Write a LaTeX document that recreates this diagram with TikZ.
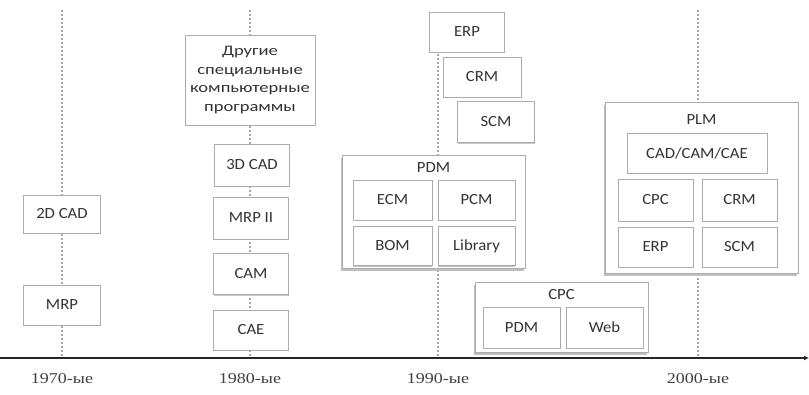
\documentclass[tikz,border=0pt]{standalone}
\usepackage{fontspec}
\setmainfont[FakeStretch=1.08]{Carlito}
\newfontfamily\widefont[FakeStretch=1.28]{Carlito}
\newfontfamily\yearfont[FakeStretch=1.2]{Liberation Serif}
\usetikzlibrary{arrows.meta,shadows}

\tikzset{
  sys/.style={draw=gray!65, line width=1pt, fill=white, font=\fontsize{15.5}{18}\selectfont,
    inner sep=0pt, align=center, text=black!80,
    drop shadow={shadow xshift=0pt, shadow yshift=-1.2pt, fill=gray!45, opacity=1}},
  grp/.style={sys, drop shadow={shadow xshift=-1.5pt, shadow yshift=-2.5pt, fill=gray!50, opacity=1}},
  grptitle/.style={font=\fontsize{15.5}{18}\selectfont, text=black!80, inner sep=0pt},
  era/.style={draw=gray!70, line width=1.3pt, dash pattern=on 2pt off 2pt},
  year/.style={font=\yearfont\fontsize{15}{17}\selectfont, text=black!75},
}

\begin{document}
\begin{tikzpicture}[x=1pt, y=-1pt]
  \useasboundingbox (0,0) rectangle (809,394);

  % Time axis ends
  \coordinate (a0) at (0,358);
  \coordinate (a1) at (809,358);

  % Era lines
  \coordinate (t70) at (62,10);   \coordinate (b70) at (62,358);
  \coordinate (t80) at (250,10);  \coordinate (b80) at (250,358);
  \coordinate (t90) at (438,30);  \coordinate (b90) at (438,358);
  \coordinate (t00) at (698,10);  \coordinate (b00) at (698,358);

  \draw[era] (t70) -- (b70);
  \draw[era] (t80) -- (b80);
  \draw[era] (t90) -- (b90);
  \draw[era] (t00) -- (b00);

  \draw[line width=1.6pt, black!85, -{Latex[length=5pt,width=5pt]}] (a0) -- (a1);

  % Year labels
  \node[year] (y70) at (62,379)  {1970-ые};
  \node[year] (y80) at (250,379) {1980-ые};
  \node[year] (y90) at (438,379) {1990-ые};
  \node[year] (y00) at (698,379) {2000-ые};

  % 1970s
  \node[sys, minimum width=77, minimum height=38] (cad2d) at (62,214) {2D CAD};
  \node[sys, minimum width=77, minimum height=40] (mrp)   at (62,305) {MRP};

  % 1980s
  \node[sys, minimum width=130, minimum height=90, font=\widefont\fontsize{14.5}{18.5}\selectfont] (other) at (250,80)
    {Другие\\специальные\\компьютерные\\программы};
  \node[sys, minimum width=75, minimum height=42] (cad3d) at (252,165) {3D CAD};
  \node[sys, minimum width=75, minimum height=42] (mrp2)  at (251,218) {MRP II};
  \node[sys, minimum width=75, minimum height=41] (cam)   at (251,274) {CAM};
  \node[sys, minimum width=75, minimum height=40] (cae)   at (251,330) {CAE};

  % 1990s
  \node[sys, minimum width=75, minimum height=40] (erp) at (467,32)  {ERP};
  \node[sys, minimum width=78, minimum height=40] (crm) at (482,77)  {CRM};
  \node[sys, minimum width=77, minimum height=41] (scm) at (496,122) {SCM};

  \node[grp, minimum width=183, minimum height=113] (pdm) at (433.5,211.5) {};
  \node[grptitle] (pdmt) at (433.5,168) {PDM};
  \node[sys, minimum width=79, minimum height=40] (ecm) at (392.5,200) {ECM};
  \node[sys, minimum width=77, minimum height=40] (pcm) at (476.5,200) {PCM};
  \node[sys, minimum width=79, minimum height=39] (bom) at (392.5,246) {BOM};
  \node[sys, minimum width=77, minimum height=39] (lib) at (476.5,246) {Library};

  \node[grp, minimum width=173, minimum height=70] (cpc) at (561.5,317) {};
  \node[grptitle] (cpct) at (561.5,295) {CPC};
  \node[sys, minimum width=77, minimum height=41] (pdm2) at (521.5,327.5) {PDM};
  \node[sys, minimum width=77, minimum height=41] (web)  at (604.5,327.5) {Web};

  % 2000s
  \node[grp, minimum width=193, minimum height=171] (plm) at (701.5,187.5) {};
  \node[grptitle] (plmt) at (701.5,120) {PLM};
  \node[sys, minimum width=140, minimum height=40] (cax)  at (697,153) {CAD/CAM/CAE};
  \node[sys, minimum width=75, minimum height=42] (cpc2) at (655.5,200) {CPC};
  \node[sys, minimum width=75, minimum height=42] (crm2) at (739.5,200) {CRM};
  \node[sys, minimum width=75, minimum height=40] (erp2) at (655.5,247) {ERP};
  \node[sys, minimum width=75, minimum height=40] (scm2) at (739.5,247) {SCM};
\end{tikzpicture}
\end{document}
